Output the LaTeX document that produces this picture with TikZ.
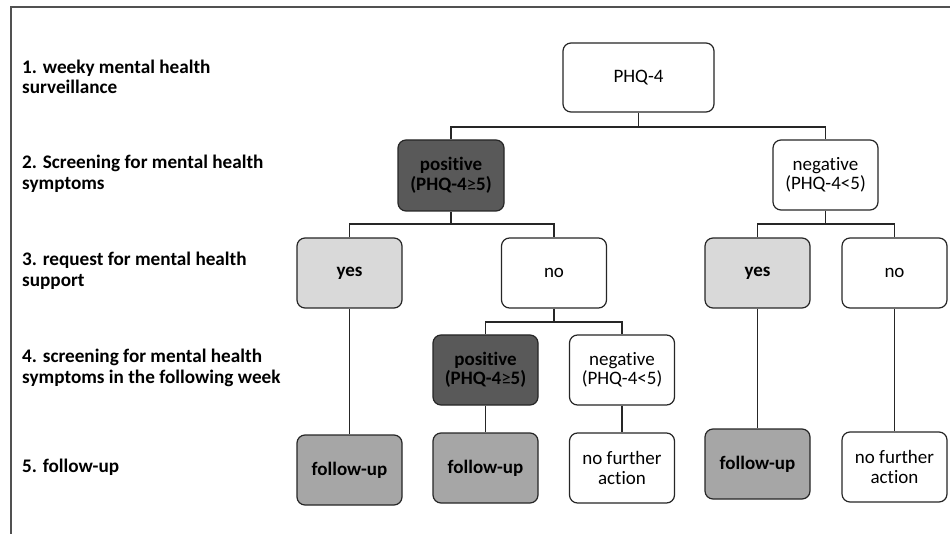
\documentclass[tikz,border=0pt]{standalone}
\usepackage{fontspec}
\setmainfont{Carlito}[Ligatures=NoCommon]
\usetikzlibrary{positioning}
\definecolor{darkbox}{HTML}{595959}
\definecolor{lightbox}{HTML}{D9D9D9}
\definecolor{midbox}{HTML}{A6A6A6}
\definecolor{edge}{HTML}{262626}
\tikzset{
  box/.style={draw=edge, line width=1.2pt, rounded corners=8pt, minimum width=105pt,
    minimum height=70pt, inner sep=0pt, align=center, font=\fontsize{19}{19.5}\selectfont, fill=white},
  boxdark/.style={box, fill=darkbox, font=\fontsize{19}{19.5}\selectfont\bfseries},
  boxlight/.style={box, fill=lightbox, font=\fontsize{19}{19.5}\selectfont\bfseries},
  boxmid/.style={box, fill=midbox, font=\fontsize{19}{19.5}\selectfont\bfseries},
  lvl/.style={anchor=west, align=left, inner sep=0pt, font=\fontsize{19.2}{20.5}\selectfont\bfseries},
  conn/.style={draw=edge, line width=1.2pt},
  frameline/.style={draw=edge!80, line width=1.2pt}
}
\newcommand{\gesym}{{\mdseries\char"2265}}
\begin{document}
\begin{tikzpicture}[x=1pt,y=-1pt]
\useasboundingbox (0,0) rectangle (950,534);
\coordinate (fa) at (11,7);
\coordinate (fb) at (950,7);
\coordinate (fc) at (11,534);
\draw[frameline] (fb) -- (fa) -- (fc);

% level labels
\node[lvl] (l1) at (22,77) {1. weeky mental health\\surveillance};
\node[lvl] (l2) at (22,174) {2. Screening for mental health\\symptoms};
\node[lvl] (l3) at (22,271) {3. request for mental health\\support};
\node[lvl] (l4) at (22,368) {4. screening for mental health\\symptoms in the following week};
\node[lvl] (l5) at (22,467) {5. follow-up};

% boxes
\node[box, minimum width=151pt, minimum height=69pt] (phq) at (638.5,77.5) {PHQ-4};
\node[boxdark, minimum width=106pt, minimum height=71pt] (pos1) at (451,175.5) {positive\\(PHQ-4\gesym5)};
\node[box] (neg1) at (825.5,175) {negative\\(PHQ-4<5)};
\node[boxlight] (yes1) at (349.5,273) {yes};
\node[box] (no1) at (554,273) {no};
\node[boxlight] (yes2) at (757.5,273) {yes};
\node[box] (no2) at (894.5,273) {no};
\node[boxdark] (pos2) at (485.5,370) {positive\\(PHQ-4\gesym5)};
\node[box] (neg2) at (622,370) {negative\\(PHQ-4<5)};
\node[boxmid] (fu1) at (349.5,470) {follow-up};
\node[boxmid] (fu2) at (485.5,468) {follow-up};
\node[box] (nfa1) at (622,468) {no further\\action};
\node[boxmid] (fu3) at (757.5,464) {follow-up};
\node[box] (nfa2) at (894.5,467) {no further\\action};

% junctions
\coordinate (j1) at (638.5,127);
\coordinate (j2) at (451,224);
\coordinate (j3) at (825.5,224);
\coordinate (j4) at (554,322);

\draw[conn] (phq.south) -- (j1);
\draw[conn] (pos1.north) |- (j1) -| (neg1.north);
\draw[conn] (pos1.south) -- (j2);
\draw[conn] (yes1.north) |- (j2) -| (no1.north);
\draw[conn] (neg1.south) -- (j3);
\draw[conn] (yes2.north) |- (j3) -| (no2.north);
\draw[conn] (no1.south) -- (j4);
\draw[conn] (pos2.north) |- (j4) -| (neg2.north);
\draw[conn] (yes1.south) -- (fu1.north);
\draw[conn] (pos2.south) -- (fu2.north);
\draw[conn] (neg2.south) -- (nfa1.north);
\draw[conn] (yes2.south) -- (fu3.north);
\draw[conn] (no2.south) -- (nfa2.north);
\end{tikzpicture}
\end{document}
